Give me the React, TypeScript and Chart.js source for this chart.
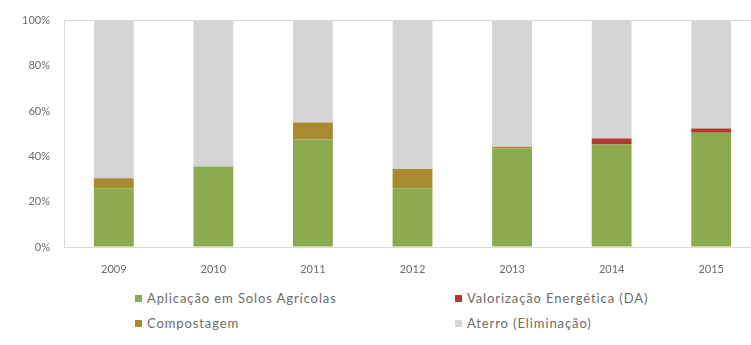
import React, { useEffect, useRef } from "react";
import { Chart, registerables } from "chart.js";

Chart.register(...registerables);

const categories = ["2009", "2010", "2011", "2012", "2013", "2014", "2015"];
const aplicacao = [26, 35.6, 47.5, 26, 43.5, 45.3, 50.5];
const compostagem = [4.4, 0, 7.5, 8.5, 0.8, 0, 0];
const valorizacao = [0, 0, 0, 0, 0, 2.6, 1.8];
const aterro = [69.6, 64.4, 45, 65.5, 55.7, 52.1, 47.7];

const seriesLabels = [
  "Aplicação em Solos Agrícolas",
  "Compostagem",
  "Valorização Energética (DA)",
  "Aterro (Eliminação)",
];
const seriesColors = ["#8CAA4E", "#AA8A30", "#B03A2E", "#D5D5D5"];

const FONT = "Lato, 'Open Sans', sans-serif";
const TEXT = "#6b6b6b";

export default function App() {
  const ref = useRef<HTMLCanvasElement | null>(null);

  useEffect(() => {
    if (!ref.current) return;
    const chart = new Chart(ref.current, {
      type: "bar",
      data: {
        labels: categories,
        datasets: [
          { label: seriesLabels[0], data: aplicacao, backgroundColor: seriesColors[0] },
          { label: seriesLabels[1], data: compostagem, backgroundColor: seriesColors[1] },
          { label: seriesLabels[2], data: valorizacao, backgroundColor: seriesColors[2] },
          { label: seriesLabels[3], data: aterro, backgroundColor: seriesColors[3] },
        ],
      },
      options: {
        animation: false,
        responsive: false,
        maintainAspectRatio: false,
        layout: { padding: { top: 19, right: 4, bottom: 0, left: 0 } },
        datasets: { bar: { categoryPercentage: 1, barPercentage: 0.4 } },
        plugins: { legend: { display: false }, tooltip: { enabled: false } },
        scales: {
          x: {
            stacked: true,
            grid: { display: false },
            border: { display: true, color: "#d9d9d9", width: 1 },
            ticks: { color: TEXT, font: { family: FONT, size: 11 }, padding: 8, maxRotation: 0 },
            afterFit: (s: any) => {
              s.height = 38;
            },
          },
          y: {
            stacked: true,
            min: 0,
            max: 100,
            ticks: {
              stepSize: 20,
              color: TEXT,
              font: { family: FONT, size: 11 },
              padding: 14,
              callback: (v: any) => v + "%",
            },
            grid: {
              drawTicks: false,
              color: (ctx: any) => (ctx.tick && ctx.tick.value === 100 ? "#d9d9d9" : "rgba(0,0,0,0)"),
            },
            border: { display: true, color: "#d9d9d9", width: 1 },
            afterFit: (s: any) => {
              s.width = 64;
            },
          },
        },
      },
    });
    return () => chart.destroy();
  }, []);

  const legendPos = [
    { left: 135, top: 290 },
    { left: 135, top: 315 },
    { left: 455, top: 290 },
    { left: 455, top: 315 },
  ];

  return (
    <div
      style={{
        position: "fixed",
        left: 0,
        top: 0,
        width: 751,
        height: 345,
        overflow: "hidden",
        background: "#fff",
      }}
    >
      <canvas ref={ref} width={765} height={285} style={{ position: "absolute", left: 0, top: 0 }} />
      {seriesLabels.map((lab, i) => (
        <div
          key={lab}
          style={{
            position: "absolute",
            left: legendPos[i].left,
            top: legendPos[i].top,
            display: "flex",
            alignItems: "center",
            fontFamily: FONT,
            fontSize: 13,
            letterSpacing: "0.9px",
            color: TEXT,
            whiteSpace: "nowrap",
            lineHeight: "16px",
          }}
        >
          <span
            style={{
              display: "inline-block",
              width: 7,
              height: 7,
              background: seriesColors[i],
              marginRight: 5,
            }}
          />
          {lab}
        </div>
      ))}
    </div>
  );
}
